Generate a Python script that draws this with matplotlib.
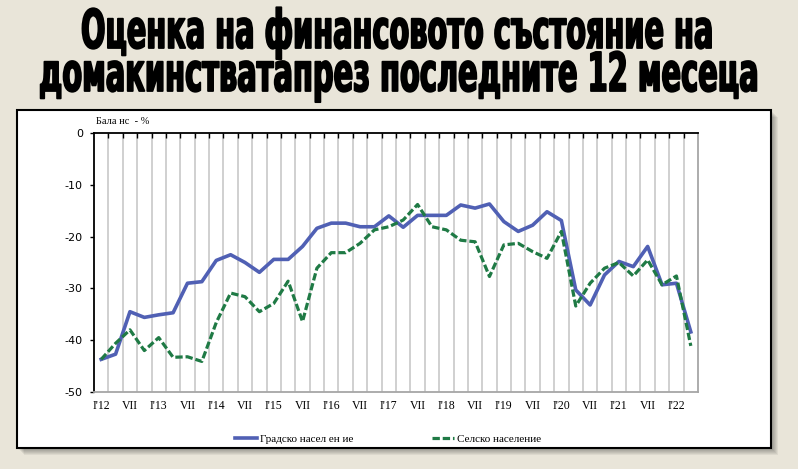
import numpy as np
import matplotlib
matplotlib.use("Agg")
import matplotlib.pyplot as plt
from matplotlib.patches import Rectangle
from matplotlib.patheffects import Stroke
from matplotlib.transforms import Affine2D

plt.rcParams["axes.unicode_minus"] = False

# Баланс (%) по тримесечия, I'12 ... IV'22
urban = [-43.7, -42.7, -34.5, -35.6, -35.1, -34.7, -29.0, -28.7, -24.6, -23.5,
         -25.0, -26.9, -24.4, -24.4, -21.9, -18.4, -17.4, -17.4, -18.1, -18.1,
         -16.0, -18.2, -15.9, -15.9, -15.9, -13.9, -14.5, -13.7, -17.1, -19.0,
         -17.8, -15.2, -16.9, -30.3, -33.2, -27.4, -24.8, -25.8, -21.9, -29.3,
         -29.0, -38.4]
rural = [-43.7, -40.6, -38.0, -42.0, -39.5, -43.3, -43.2, -44.1, -36.6, -30.9,
         -31.6, -34.5, -32.9, -28.6, -36.4, -26.1, -23.1, -23.1, -21.3, -18.7,
         -18.1, -16.8, -13.8, -18.1, -18.7, -20.7, -21.0, -27.7, -21.6, -21.3,
         -22.9, -24.2, -19.0, -33.4, -29.0, -26.1, -25.0, -27.6, -24.5, -29.3,
         -27.6, -41.1]
tick_labels = ["I'12", "VII", "I'13", "VII", "I'14", "VII", "I'15", "VII",
               "I'16", "VII", "I'17", "VII", "I'18", "VII", "I'19", "VII",
               "I'20", "VII", "I'21", "VII", "I'22"]
series_names = ["Градско насел ен ие", "Селско население"]
title_lines = ["Оценка на финансовото състояние на",
               "домакинстватапрез последните 12 месеца"]

W, H = 798, 469


def fx(x):
    return x / W


def fy(y):
    return 1 - y / H


class StretchStroke(Stroke):
    """Удебелява и разтяга глифите около началото на базовата линия."""

    def __init__(self, sx=1.0, sy=1.0, **kw):
        super().__init__(**kw)
        self.sx, self.sy = sx, sy

    def draw_path(self, renderer, gc, tpath, affine, rgbFace=None):
        super().draw_path(renderer, gc, tpath,
                          Affine2D().scale(self.sx, self.sy) + affine, rgbFace)


fig = plt.figure(figsize=(W / 100, H / 100), dpi=100, facecolor="#E9E5D9")

# рамка със сянка
for k in range(7):
    fig.patches.append(Rectangle((fx(18 + k), fy(449 + k)), 754 / W, 338 / H,
                                 transform=fig.transFigure, facecolor="black",
                                 alpha=0.055, edgecolor="none", zorder=-3))
fig.patches.append(Rectangle((fx(17), fy(448)), 754 / W, 338 / H,
                             transform=fig.transFigure, facecolor="white",
                             edgecolor="black", lw=1.5, zorder=-1))


def fit_title(txt, x0, x1, base, xheight):
    t = fig.text(fx(x0), fy(base), txt, ha="left", va="baseline",
                 fontsize=20, fontweight="bold", color="black")
    w = t.get_window_extent(fig.canvas.get_renderer()).width
    size = 20 * (x1 - x0) / w
    t.set_fontsize(size)
    sy = xheight / (0.56 * size * 100 / 72)
    t.set_path_effects([StretchStroke(1.0, sy, linewidth=1.3, foreground="black")])


fit_title(title_lines[0], 81, 714, 48, 30)
fit_title(title_lines[1], 39, 759, 91, 30)

ax = fig.add_axes([fx(94), fy(392), (698 - 94) / W, (392 - 133) / H])
x = np.arange(len(urban))
l1, = ax.plot(x, urban, color="#5060B4", lw=2.6, label=series_names[0], zorder=3)
l2, = ax.plot(x, rural, color="#1F7A45", lw=2.3, dashes=(2.3, 0.9),
              label=series_names[1], zorder=4)

ax.set_xlim(-0.5, len(urban) - 0.5)
ax.set_ylim(-50, 0)
ax.set_yticks(np.arange(-50, 1, 10))
ax.set_xticks(np.arange(0.5, len(urban) - 1, 1))
ax.set_xticks(np.arange(0, len(urban), 2), tick_labels, minor=True)
ax.grid(axis="x", which="major", color="#C4C4C4", lw=1.1)
ax.set_axisbelow(True)
ax.tick_params(axis="x", which="major", top=True, bottom=False, direction="in",
               length=3.5, width=1, color="black", labelbottom=False)
ax.tick_params(axis="x", which="minor", length=0, pad=6, labelsize=8.5)
for lab in ax.get_xticklabels(minor=True):
    lab.set_family("Liberation Serif")
ax.tick_params(axis="y", direction="out", length=3, width=1, labelsize=8, pad=5)

for s in ["top", "left"]:
    ax.spines[s].set_color("black")
    ax.spines[s].set_linewidth(1.3)
for s in ["bottom", "right"]:
    ax.spines[s].set_color("#A6A6A6")
    ax.spines[s].set_linewidth(1.3)

fig.text(fx(96), fy(121), "Бала нс  - %", fontsize=7.5, family="Liberation Serif",
         va="center")

fig.legend([l1, l2], series_names, loc="center", bbox_to_anchor=(fx(388), fy(439)),
           ncol=2, frameon=False, prop={"family": "Liberation Serif", "size": 8},
           handlelength=2, handletextpad=0.3, columnspacing=7)

fig.savefig("out.png", dpi=100, facecolor=fig.get_facecolor())
